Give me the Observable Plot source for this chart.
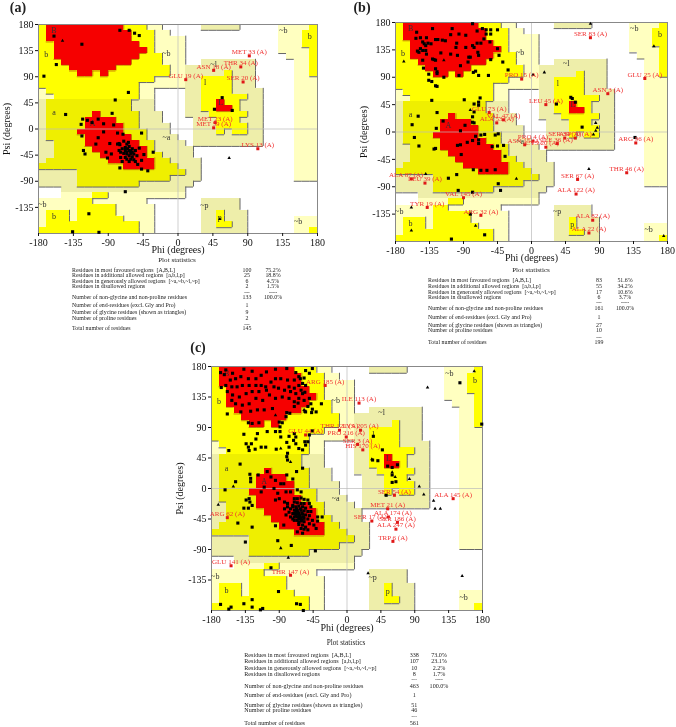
<!DOCTYPE html>
<html><head><meta charset="utf-8">
<script src="https://cdn.jsdelivr.net/npm/d3@7"></script>
<script src="https://cdn.jsdelivr.net/npm/@observablehq/plot@0.6"></script>
<style>
html,body{margin:0;padding:0;background:#fff}
#page{position:relative;width:676px;height:727px;overflow:hidden;font-family:"Liberation Serif",serif;filter:blur(.4px)}
#page>div{position:absolute}
.t{position:absolute;white-space:pre;line-height:1;color:#222}
</style></head><body><div id="page"></div>
<script>
// Ramachandran map, one row per 10 degrees of psi from +180 down to -180; runs of 10-degree phi cells
const regionRows = [
"Y1 R10 Y3 L2 .5 K5 .5 L4 Y1","Y1 R11 Y3 L2 .14 L3 Y2","Y1 R11 Y3 L4 .12 L3 Y2","Y2 R11 Y2 L4 .12 L3 Y2",
"Y2 R12 Y1 L4 .12 L4 Y1","Y2 R11 Y3 L3 .13 L3 Y1","Y3 R9 Y4 L3 .2 K7 .5 L2 Y1","Y4 R6 Y7 L2 K9 .5 L2 Y1",
"Y5 R2 Y1 R1 Y8 L2 K5 Y1 K3 .5 L2 Y1","Y15 L4 K2 Y4 K3 .5 L3","Y13 L6 K2 Y4 K3 .5 L3","L1 Y12 L2 .4 K2 Y4 K4 .4 L3",
"L2 Y11 L2 .4 K2 Y6 K2 .4 L3","K1 D11 K3 .4 K2 Y2 R1 Y2 K3 .4 L3","K1 D11 K3 .4 K2 Y2 R2 Y1 K3 .4 L3","K1 D6 R1 D5 K3 .3 K3 Y5 K2 .4 L3",
"K1 D5 R4 D3 K3 .4 K3 Y3 K3 .4 L3","K1 D5 R5 D2 K4 .3 K3 Y4 K2 .4 L3","K1 D4 R6 D3 K3 .3 K3 Y1 K1 Y2 K2 .4 L3","K1 D5 R6 D2 K4 .2 K9 .4 L3",
"K2 D4 R7 D2 K4 .1 K9 .4 L3","K2 D5 R7 D1 K5 .13 L3","K2 D6 R6 D2 K4 .13 L3","K1 D8 R6 D2 K4 .12 L3",
"D11 R4 D3 K3 .12 L3","K5 D14 K2 .12 L3","K5 D12 K4 .12 L3","K5 D8 K7 .16",
".3 K16 .17",".3 L4 Y2 L10 .17","L5 Y2 L7 .7 K5 .10","L5 Y5 L5 .6 K5 .10",
"L1 Y3 L1 Y5 L5 .6 K2 Y1 K3 .9","L1 Y3 L1 Y6 L4 .6 K2 Y1 K3 .6 L3","L1 Y12 L2 .6 K2 Y2 K2 .6 L3","Y13 L2 .6 K6 .6 L2 Y1"];
const regionCodes = ["R","Y","D","L","K"];
const regionColors = ["#f60000","#ffff00","#efef00","#ffffc0","#eeeeaa"];
const regionLevels = {R:3,Y:2,D:2,L:1,K:1,".":0};
const regionLetters = [["B",-160,170],["b",-170,129],["a",-160,29],["A",-110,10],["L",55,45],["l",35,80],["~l",46,112],["~b",-15,130],["~a",-15,-15],["~p",34,-131],["p",54,-152],["b",-160,-150],["~b",-175,-130],["~b",136,170],["b",170,160],["~b",155,-160]];
const phiTicks = [-180,-135,-90,-45,0,45,90,135,180];
const psiTicks = [-135,-90,-45,0,45,90,135,180];
const statLabels = ["Residues in most favoured regions  [A,B,L]","Residues in additional allowed regions  [a,b,l,p]","Residues in generously allowed regions  [~a,~b,~l,~p]","Residues in disallowed regions","Number of non-glycine and non-proline residues","Number of end-residues (excl. Gly and Pro)","Number of glycine residues (shown as triangles)","Number of proline residues","Total number of residues"];

const aResidues = [[-160,160],[-124,146],[-157,111],[-173,91],[-75,170],[-63,170],[-56,165],[-50,161],[-64,63],[-81,50],[-85,27],[-145,25],[-123,17],[-125,8],[-124,-12],[-117,15],[-111,11],[-103,17],[-96,9],[-83,7],[-96,-5],[-103,-15],[-106,-26],[-122,-37],[-120,-43],[-88,-25],[-93,-40],[-91,-50],[-86,-43],[-78,-7],[-71,-9],[-47,-7],[-70,-21],[-64,-23],[-50,-33],[-44,-44],[-32,-40],[-47,-54],[-52,-61],[-47,-69],[-39,-72],[-75,-67],[-68,-108],
[-78,-26],[-75,-27],[-76,-25],[-66,-26],[-63,-30],[-68,-32],[-72,-34],[-76,-37],[-68,-37],[-63,-37],[-59,-34],[-55,-37],[-74,-40],[-70,-42],[-66,-43],[-61,-42],[-57,-43],[-53,-46],[-63,-46],[-59,-48],[-68,-49],[-74,-49],[-66,-52],[-61,-52],[-57,-53],[-72,-56],[-63,-56],[-55,-56],[-59,-40],[-65,-34],[-66,-40],[-61,-38],
[57,54],[47,34],[70,32],[-115,-146],[-136,-177],[-102,-178]];
const aGlycine = [[-149,152],[54,-155],[66,-50]];
const aOutliers = [["MET 33",92,126],["THR 34",81,107],["ASN 18",46,101],["GLU 19",10,85],["SER 20",84,81],["MET 23",48,11],["MET 59",46,2],["LYS 13",103,-34]];
const aStatCounts = ["100","25","6","2","133","1","9","2","145"];
const aStatShares = ["75.2%","18.8%","4.5%","1.5%","100.0%"];

const bResidues = [[-152,164],[-153,154],[-147,155],[-139,155],[-131,170],[-144,148],[-142,145],[-140,142],[-137,146],[-133,145],[-127,152],[-124,152],[-118,151],[-114,150],[-105,170],[-96,161],[-107,160],[-99,146],[-87,159],[-78,178],[-72,166],[-65,170],[-60,168],[-60,161],[-54,168],[-45,168],[-54,161],[-63,153],[-67,146],[-72,146],[-78,142],[-76,139],[-83,123],[-81,123],[-84,115],[-71,131],[-70,126],[-55,148],[-45,137],[-43,126],[-38,115],[-54,119],[-147,137],[-151,133],[-149,131],[-144,134],[-140,134],[-139,128],[-131,120],[-129,119],[-127,118],[-144,118],[-143,105],[-136,95],[-127,104],[-125,99],[-125,96],[-116,90],[-136,85],[-132,83],[-127,76],[-125,75],[-94,109],[-96,93],[-77,98],[-74,100],[-70,93],[-57,93],[-31,102],[-120,130],[-107,128],[-98,126],[-100,139],[-87,139],
[-132,52],[-125,32],[-89,53],[-76,46],[-70,49],[-70,44],[-68,56],[-76,33],[-78,25],[-78,16],[-76,15],[-150,26],[-158,12],[-126,6],[-155,-9],[-149,-23],[-129,-28],[-127,-27],[-117,18],[-88,11],[-94,2],[-98,-22],[-93,-37],[-78,-14],[-74,-7],[-70,-13],[-67,-5],[-62,-4],[-48,-5],[-44,-3],[-52,-24],[-45,-23],[-37,-22],[-70,-19],[-85,-17],[-94,-21],[-35,-40],[-48,-62],[-59,-63],[-77,-62],[-67,-63],[-99,-70],[-110,-76],[-97,-96],[-78,-99],[-44,-85],[-41,-96],[-81,-135],[-62,-169],[-106,-176],[67,8],[52,57],[54,55],[58,49],[33,46],[137,-9]];
const bGlycine = [[-169,116],[2,94],[17,98],[78,178],[-81,36],[-159,-124],[-159,-162],[-74,-154],[175,-171],[162,141],[76,-61],[-20,-77],[-140,-69],[85,15],[87,7],[85,2],[82,-4],[-116,118]];
const bOutliers = [["SER 83",78,155],["GLU 25",150,88],["PRO 15",-13,87],["ASN 3",101,63],["LEU 45",19,45],["GLU 73",-56,32],["VAL 47",-37,20],["ALA 53",-46,15],["ARG 96",138,-18],["PRO 4",2,-15],["ASN 15",-9,-21],["ILE 36",34,-19],["CYS 20",19,-25,-5],["SER 39",44,-10],["ASP 70",58,-10],["ALA 87",-159,-77,-7],["LEU 39",-141,-84],["THR 46",126,-67],["SER 67",61,-78],["ALA 122",59,-102],["VAL 145",-90,-108],["TYR 19",-138,-124],["ARG 32",-67,-137],["ALA 82",81,-145],["ALA 22",76,-166]];
const bStatCounts = ["83","55","17","6","161","1","27","10","199"];
const bStatShares = ["51.6%","34.2%","10.6%","3.7%","100.0%"];

const cResidues = [[-168,171],[-161,175],[-152,170],[-137,176],[-163,168],[-167,149],[-161,152],[-155,160],[-148,162],[-141,165],[-131,162],[-126,173],[-121,162],[-114,167],[-107,172],[-95,176],[-80,177],[-68,171],[-55,174],[-46,177],[-50,170],[-57,163],[-64,165],[-70,160],[-79,160],[-88,162],[-95,162],[-101,157],[-108,150],[-114,152],[-121,152],[-130,152],[-139,152],[-146,150],[-153,150],[-159,143],[-152,138],[-143,135],[-134,140],[-126,143],[-117,143],[-107,145],[-97,150],[-91,148],[-83,145],[-77,150],[-70,148],[-64,152],[-59,155],[-61,145],[-68,140],[-75,143],[-55,152],[-56,142],[-50,133],[-48,125],[-52,121],[-46,117],[-55,113],[-41,113],[-34,125],[-57,130],[-64,133],[-70,128],[-77,133],[-86,135],[-95,133],[-103,138],[-112,130],[-121,133],[-130,125],[-139,123],[-148,125],[-153,130],[-159,110],[-141,113],[-131,97],[-126,96],[-117,97],[-119,116],[-128,114],[-110,116],[-99,118],[-80,112],[-90,98],[-86,97],[-76,111],[-56,114],[-47,112],[-89,91],[-81,106],[-65,126],[-59,140],[-70,121],[-62,162],
[-137,80],[-119,81],[-121,73],[-127,66],[-134,66],[-131,61],[-130,56],[-122,58],[-157,56],[-114,61],[-108,61],[-94,58],[-80,68],[-77,61],[-71,71],[-68,66],[-64,59],[-59,57],[-56,69],[-52,69],[-55,64],[-79,52],[-80,47],[-79,42],[-50,79],[-46,85],[-68,76],[-70,81],[-95,84],[-89,84],[-106,84],[-88,76],[-77,77],[-59,30],[-67,25],[-142,36],[-129,21],[-128,15],[-128,10],[-118,20],[-148,10],[-162,-2],[-134,-17],[-137,-29],[-131,-29],[-126,-25],[-130,-15],[-129,-20],[-145,-51],[-126,-57],[-135,-79],[-92,-77],[-74,-84],[-42,-92],[-84,-54],[-95,-55],[-101,-117],
[-106,25],[-101,17],[-95,12],[-88,7],[-80,20],[-72,14],[-84,7],[-97,0],[-110,2],[-114,-5],[-81,-5],[-75,-5],[-66,-2],[-61,-5],[-92,-7],[-90,-15],[-95,-17],[-83,-20],[-79,-22],[-72,-25],
[-70,-15],[-66,-15],[-61,-14],[-57,-16],[-52,-17],[-50,-22],[-48,-27],[-70,-20],[-66,-21],[-61,-22],[-57,-22],[-72,-27],[-68,-27],[-64,-26],[-59,-27],[-55,-29],[-83,-30],[-79,-27],[-75,-30],[-70,-32],[-66,-32],[-61,-32],[-57,-33],[-52,-34],[-48,-34],[-77,-35],[-72,-37],[-68,-37],[-64,-37],[-59,-38],[-55,-39],[-50,-40],[-39,-42],[-33,-42],[-81,-39],[-75,-42],[-70,-42],[-66,-42],[-61,-43],[-57,-44],[-52,-45],[-46,-47],[-39,-48],[-70,-47],[-66,-47],[-61,-48],[-57,-49],[-50,-52],[-44,-54],[-64,-53],[-59,-54],[-55,-57],[-61,-59],[-57,-60],[-52,-61],[-41,-59],[-66,-64],[-59,-66],[-67,-30],[-65,-35],[-63,-40],[-62,-45],[-68,-40],[-60,-36],[-64,-44],[-66,-38],[-70,-37],[-62,-30],[-58,-42],[-72,-45],[-64,-50],[-68,-33],[-60,-47],
[-126,-164],[-168,-171],[-154,-175],[-157,-178],[-137,-170],[-115,-179],[-126,-175],[-112,-177],[-91,-152],[-67,-170],[-62,-171],[-58,-180],
[35,77],[47,57],[34,42],[41,41],[54,33],[60,31],[67,35],[60,20],[65,10],[60,9],[52,-10],[150,156],[179,95]];
const cGlycine = [[107,149],[169,173],[33,43],[60,24],[83,14],[96,3],[102,-9],[115,-18],[117,-30],[124,-30],[153,-129],[28,-125],[-171,-24],[-151,3],[-88,-88],[-78,-102],[-88,59],[-75,39],[-57,116],[64,17],[-95,108]];
const cOutliers = [["ARG 185",-29,152],["ILE 113",16,126],["THR 121",-10,86],["LYS 205",18,86],["PRO 216",-1,76],["SER 3",14,65],["HIS 170",21,57],["GLU 44",-55,79],["SER 54",63,-10],["ALA 145",141,-15],["MET 21",54,-30],["ALA 174",55,-42,6],["SER 17",33,-48,-2],["SER 186",67,-50],["ALA 247",65,-60],["TRP 6",61,-78],["ARG 62",-159,-43],["GLU 141",-154,-114],["THR 147",-75,-128]];
const cStatCounts = ["338","107","10","8","463","1","51","46","561"];
const cStatShares = ["73.0%","23.1%","2.2%","1.7%","100.0%"];

// expand the runs into cells
const grid = regionRows.map(r => r.split(" ").flatMap(s => Array(+s.slice(1)).fill(s[0])));
const runs = [], edgesV = [], edgesH = [], redV = [], redH = [];
grid.forEach((row, i) => {
  const top = 180 - i * 10;
  let c = 0;
  for (const s of regionRows[i].split(" ")) {
    const n = +s.slice(1);
    if (s[0] !== ".") runs.push({code: s[0], x1: -180 + c * 10, x2: -180 + (c + n) * 10, y1: top - 10, y2: top});
    c += n;
  }
  row.forEach((k, j) => {
    const l = regionLevels[k], x = -180 + j * 10;
    if (j < 35 && l > regionLevels[row[j + 1]]) (l === 3 ? redV : edgesV).push({x: x + 10, y1: top - 10, y2: top});
    if (i < 35 && l > regionLevels[grid[i + 1][j]]) (l === 3 ? redH : edgesH).push({y: top - 10, x1: x, x2: x + 10});
  });
});

const page = document.getElementById("page");
const sans = "Liberation Serif";
function panel(o) {
  const fig = Plot.plot({
    width: o.w, height: o.h, marginLeft: o.ml, marginRight: o.mr, marginTop: o.mt, marginBottom: o.mb,
    x: {domain: [-180, 180]}, y: {domain: [-180, 180]},
    color: {domain: regionCodes, range: regionColors},
    style: {background: "transparent", fontFamily: sans, fontSize: "10px", overflow: "visible", color: "#111"},
    marks: [
      Plot.rect(runs, {x1: "x1", x2: "x2", y1: "y1", y2: "y2", fill: "code", shapeRendering: "crispEdges"}),
      Plot.ruleX(edgesV, {x: "x", y1: "y1", y2: "y2", stroke: "#666", strokeWidth: 1}),
      Plot.ruleY(edgesH, {y: "y", x1: "x1", x2: "x2", stroke: "#666", strokeWidth: 1}),
      Plot.ruleX(redV, {x: "x", y1: "y1", y2: "y2", stroke: "#b04000", strokeWidth: .7}),
      Plot.ruleY(redH, {y: "y", x1: "x1", x2: "x2", stroke: "#b04000", strokeWidth: .7}),
      Plot.ruleX([0], {stroke: "#bbb", strokeOpacity: .7}),
      Plot.ruleY([0], {stroke: "#bbb", strokeOpacity: .7}),
      Plot.frame({stroke: "#888"}),
      Plot.text(regionLetters, {x: d => d[1], y: d => d[2], text: d => d[0], fontSize: 8, fill: "#333"}),
      Plot.dot(o.residues, {x: d => d[0], y: d => d[1], symbol: "square", r: 1.75, fill: "#000"}),
      Plot.dot(o.glycine, {x: d => d[0], y: d => d[1], symbol: "triangle", r: 1.3, fill: "#000"}),
      Plot.dot(o.outliers, {x: d => d[1], y: d => d[2], symbol: "square", r: 1.7, fill: "#e01818"}),
      Plot.text(o.outliers, {x: d => d[1] + (d[3] || 0), y: d => d[2], text: d => d[0] + " (A)", dy: -4, fontSize: 7, fill: "#f03030"}),
      Plot.axisX({ticks: phiTicks, tickFormat: String, tickSize: 3, tickPadding: 2, fontSize: 10, label: "Phi (degrees)", labelAnchor: "center", labelArrow: "none", labelOffset: o.lx}),
      Plot.axisY({ticks: psiTicks, tickFormat: String, tickSize: 3, tickPadding: 2, fontSize: 10, label: "Psi (degrees)", labelAnchor: "center", labelArrow: "none", labelOffset: o.ly})
    ]
  });
  const d = document.createElement("div");
  d.style.left = o.x + "px"; d.style.top = o.y + "px";
  d.appendChild(fig); page.appendChild(d);
}
function put(text, x, y, size, anchor, extra) {
  const s = document.createElement("span");
  s.className = "t"; s.textContent = text;
  s.style.left = x + "px"; s.style.top = y + "px"; s.style.fontSize = size + "px";
  s.style.transform = `translate(${anchor === "l" ? "0" : "-50%"},-50%)`;
  if (extra) s.style.fontWeight = extra;
  page.appendChild(s);
}
function stats(o) {
  put("Plot statistics", o.cx, o.ty, o.fs + 1.2, "m");
  statLabels.forEach((t, i) => {
    put(t, o.x0, o.rows[i], o.fs, "l");
    put(o.counts[i], o.c1, o.rows[i], o.fs, "m");
    if (o.shares[i]) put(o.shares[i], o.c2, o.rows[i], o.fs, "m");
  });
  put("----", o.c1, o.d1, o.fs * .7, "m"); put("------", o.c2, o.d1, o.fs * .7, "m");
  put("----", o.c1, o.d2, o.fs * .7, "m");
}

panel({x: 0, y: 0, w: 325, h: 256, ml: 38, mr: 8, mt: 24, mb: 23, lx: 19, ly: 36, residues: aResidues, glycine: aGlycine, outliers: aOutliers});
panel({x: 345, y: 0, w: 331, h: 266, ml: 50, mr: 9, mt: 22, mb: 25, lx: 19, ly: 36, residues: bResidues, glycine: bGlycine, outliers: bOutliers});
panel({x: 160, y: 335, w: 330, h: 299, ml: 51, mr: 8, mt: 31, mb: 24, lx: 20, ly: 36, residues: cResidues, glycine: cGlycine, outliers: cOutliers});

stats({cx: 177, ty: 260.7, fs: 5.9, x0: 72, c1: 247, c2: 273, d1: 293, d2: 325, rows: [271,276.3,281.7,287,297.7,305.7,313.3,318.7,329], counts: aStatCounts, shares: aStatShares});
stats({cx: 531, ty: 270.7, fs: 5.9, x0: 428, c1: 599, c2: 625, d1: 303.3, d2: 337.7, rows: [281.3,287,292.7,298,309,317.7,326,331.3,342.7], counts: bStatCounts, shares: bStatShares});
stats({cx: 346, ty: 643.3, fs: 6.1, x0: 244.3, c1: 414.3, c2: 439, d1: 680.3, d2: 717.3, rows: [655,661.3,667.7,673.7,686,694.7,704.7,710.3,723.3], counts: cStatCounts, shares: cStatShares});

put("(a)", 18, 7.5, 14, "m", "bold");
put("(b)", 362, 7.5, 14, "m", "bold");
put("(c)", 198, 348, 14, "m", "bold");
</script></body></html>
